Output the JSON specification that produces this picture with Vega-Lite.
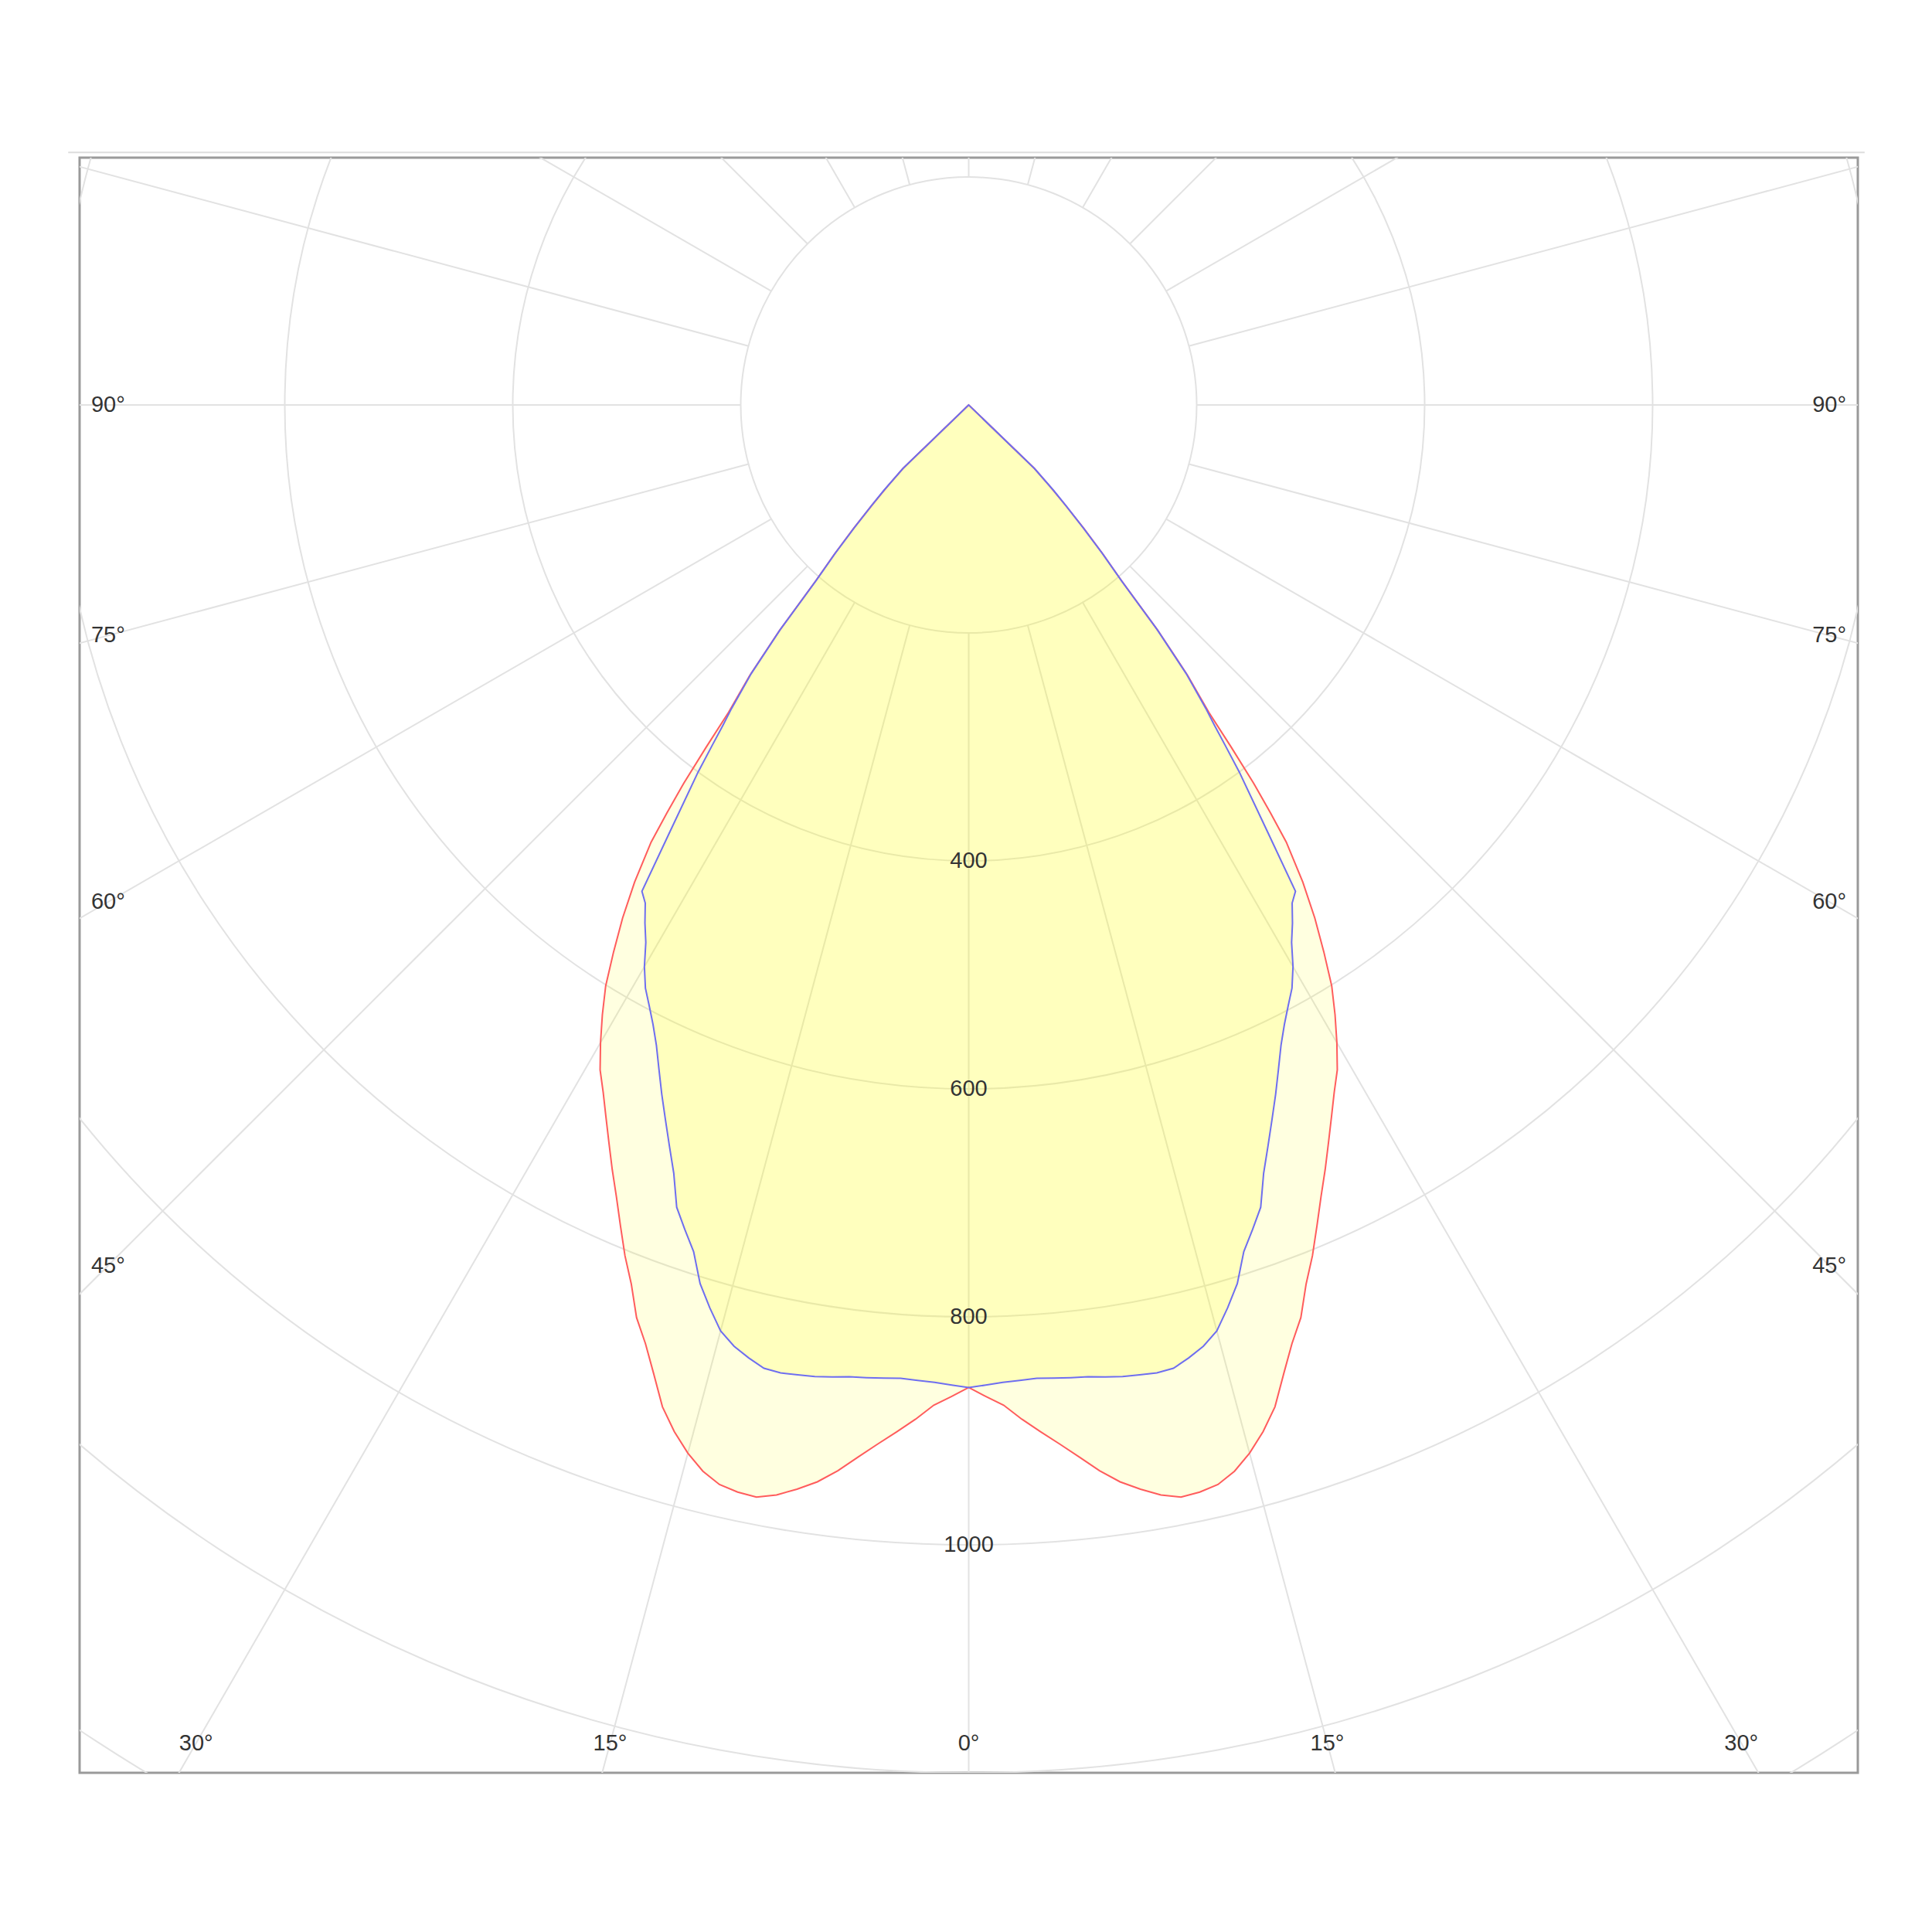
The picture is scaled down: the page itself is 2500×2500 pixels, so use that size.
{
  "$schema": "https://vega.github.io/schema/vega-lite/v6.json",
  "width": 2301,
  "height": 2090,
  "autosize": {"type": "none"},
  "padding": {"left": 103, "top": 204, "right": 96, "bottom": 206},
  "background": "white",
  "config": {"view": {"stroke": "#9a9a9a", "strokeWidth": 3}},
  "datasets": {
    "curves": [
      {"plane": "C0", "angle": -48, "cd": 0}, {"plane": "C0", "angle": -46, "cd": 80}, {"plane": "C0", "angle": -45, "cd": 100}, {"plane": "C0", "angle": -44, "cd": 122}, {"plane": "C0", "angle": -43, "cd": 148}, {"plane": "C0", "angle": -42, "cd": 176}, {"plane": "C0", "angle": -41, "cd": 205}, {"plane": "C0", "angle": -40, "cd": 258}, {"plane": "C0", "angle": -39, "cd": 305}, {"plane": "C0", "angle": -38, "cd": 342}, {"plane": "C0", "angle": -37.5, "cd": 378}, {"plane": "C0", "angle": -37, "cd": 415}, {"plane": "C0", "angle": -36.5, "cd": 445}, {"plane": "C0", "angle": -36, "cd": 474}, {"plane": "C0", "angle": -35, "cd": 511}, {"plane": "C0", "angle": -34, "cd": 543}, {"plane": "C0", "angle": -33, "cd": 572}, {"plane": "C0", "angle": -32, "cd": 601}, {"plane": "C0", "angle": -31, "cd": 624}, {"plane": "C0", "angle": -30, "cd": 646}, {"plane": "C0", "angle": -29, "cd": 667}, {"plane": "C0", "angle": -28, "cd": 683}, {"plane": "C0", "angle": -27, "cd": 701}, {"plane": "C0", "angle": -26, "cd": 720}, {"plane": "C0", "angle": -25, "cd": 740}, {"plane": "C0", "angle": -24, "cd": 760}, {"plane": "C0", "angle": -23, "cd": 782}, {"plane": "C0", "angle": -22, "cd": 805}, {"plane": "C0", "angle": -21, "cd": 826}, {"plane": "C0", "angle": -20, "cd": 852}, {"plane": "C0", "angle": -19, "cd": 871}, {"plane": "C0", "angle": -18, "cd": 894}, {"plane": "C0", "angle": -17, "cd": 919}, {"plane": "C0", "angle": -16, "cd": 937}, {"plane": "C0", "angle": -15, "cd": 952}, {"plane": "C0", "angle": -14, "cd": 964}, {"plane": "C0", "angle": -13, "cd": 972}, {"plane": "C0", "angle": -12, "cd": 975}, {"plane": "C0", "angle": -11, "cd": 976}, {"plane": "C0", "angle": -10, "cd": 971}, {"plane": "C0", "angle": -9, "cd": 963}, {"plane": "C0", "angle": -8, "cd": 954}, {"plane": "C0", "angle": -7, "cd": 942}, {"plane": "C0", "angle": -6, "cd": 928}, {"plane": "C0", "angle": -5, "cd": 915}, {"plane": "C0", "angle": -4, "cd": 903}, {"plane": "C0", "angle": -3, "cd": 891}, {"plane": "C0", "angle": -2, "cd": 878}, {"plane": "C0", "angle": -1, "cd": 870},
      {"plane": "C0", "angle": 0, "cd": 862},
      {"plane": "C0", "angle": 1, "cd": 870}, {"plane": "C0", "angle": 2, "cd": 878}, {"plane": "C0", "angle": 3, "cd": 891}, {"plane": "C0", "angle": 4, "cd": 903}, {"plane": "C0", "angle": 5, "cd": 915}, {"plane": "C0", "angle": 6, "cd": 928}, {"plane": "C0", "angle": 7, "cd": 942}, {"plane": "C0", "angle": 8, "cd": 954}, {"plane": "C0", "angle": 9, "cd": 963}, {"plane": "C0", "angle": 10, "cd": 971}, {"plane": "C0", "angle": 11, "cd": 976}, {"plane": "C0", "angle": 12, "cd": 975}, {"plane": "C0", "angle": 13, "cd": 972}, {"plane": "C0", "angle": 14, "cd": 964}, {"plane": "C0", "angle": 15, "cd": 952}, {"plane": "C0", "angle": 16, "cd": 937}, {"plane": "C0", "angle": 17, "cd": 919}, {"plane": "C0", "angle": 18, "cd": 894}, {"plane": "C0", "angle": 19, "cd": 871}, {"plane": "C0", "angle": 20, "cd": 852}, {"plane": "C0", "angle": 21, "cd": 826}, {"plane": "C0", "angle": 22, "cd": 805}, {"plane": "C0", "angle": 23, "cd": 782}, {"plane": "C0", "angle": 24, "cd": 760}, {"plane": "C0", "angle": 25, "cd": 740}, {"plane": "C0", "angle": 26, "cd": 720}, {"plane": "C0", "angle": 27, "cd": 701}, {"plane": "C0", "angle": 28, "cd": 683}, {"plane": "C0", "angle": 29, "cd": 667}, {"plane": "C0", "angle": 30, "cd": 646}, {"plane": "C0", "angle": 31, "cd": 624}, {"plane": "C0", "angle": 32, "cd": 601}, {"plane": "C0", "angle": 33, "cd": 572}, {"plane": "C0", "angle": 34, "cd": 543}, {"plane": "C0", "angle": 35, "cd": 511}, {"plane": "C0", "angle": 36, "cd": 474}, {"plane": "C0", "angle": 36.5, "cd": 445}, {"plane": "C0", "angle": 37, "cd": 415}, {"plane": "C0", "angle": 37.5, "cd": 378}, {"plane": "C0", "angle": 38, "cd": 342}, {"plane": "C0", "angle": 39, "cd": 305}, {"plane": "C0", "angle": 40, "cd": 258}, {"plane": "C0", "angle": 41, "cd": 205}, {"plane": "C0", "angle": 42, "cd": 176}, {"plane": "C0", "angle": 43, "cd": 148}, {"plane": "C0", "angle": 44, "cd": 122}, {"plane": "C0", "angle": 45, "cd": 100}, {"plane": "C0", "angle": 46, "cd": 80}, {"plane": "C0", "angle": 48, "cd": 0},

      {"plane": "C90", "angle": -48, "cd": 0}, {"plane": "C90", "angle": -46, "cd": 80}, {"plane": "C90", "angle": -44.8, "cd": 106}, {"plane": "C90", "angle": -44, "cd": 123}, {"plane": "C90", "angle": -43, "cd": 147}, {"plane": "C90", "angle": -42, "cd": 175}, {"plane": "C90", "angle": -41, "cd": 204}, {"plane": "C90", "angle": -40, "cd": 257}, {"plane": "C90", "angle": -39, "cd": 303}, {"plane": "C90", "angle": -38, "cd": 338}, {"plane": "C90", "angle": -37.5, "cd": 354}, {"plane": "C90", "angle": -37, "cd": 374}, {"plane": "C90", "angle": -36.4, "cd": 400}, {"plane": "C90", "angle": -35, "cd": 457}, {"plane": "C90", "angle": -33.9, "cd": 514}, {"plane": "C90", "angle": -33, "cd": 521}, {"plane": "C90", "angle": -32, "cd": 536}, {"plane": "C90", "angle": -31, "cd": 550}, {"plane": "C90", "angle": -30, "cd": 569}, {"plane": "C90", "angle": -29, "cd": 585}, {"plane": "C90", "angle": -28, "cd": 597}, {"plane": "C90", "angle": -27, "cd": 610}, {"plane": "C90", "angle": -26, "cd": 625}, {"plane": "C90", "angle": -25, "cd": 643}, {"plane": "C90", "angle": -24, "cd": 662}, {"plane": "C90", "angle": -23, "cd": 681}, {"plane": "C90", "angle": -22, "cd": 701}, {"plane": "C90", "angle": -21, "cd": 722}, {"plane": "C90", "angle": -20, "cd": 749}, {"plane": "C90", "angle": -19, "cd": 765}, {"plane": "C90", "angle": -18, "cd": 781}, {"plane": "C90", "angle": -17, "cd": 806}, {"plane": "C90", "angle": -16, "cd": 824}, {"plane": "C90", "angle": -15, "cd": 841}, {"plane": "C90", "angle": -14, "cd": 851}, {"plane": "C90", "angle": -13, "cd": 858}, {"plane": "C90", "angle": -12, "cd": 864}, {"plane": "C90", "angle": -11, "cd": 865}, {"plane": "C90", "angle": -10, "cd": 864}, {"plane": "C90", "angle": -9, "cd": 863}, {"plane": "C90", "angle": -8, "cd": 861}, {"plane": "C90", "angle": -7, "cd": 859}, {"plane": "C90", "angle": -6, "cd": 858}, {"plane": "C90", "angle": -5, "cd": 857}, {"plane": "C90", "angle": -4, "cd": 856}, {"plane": "C90", "angle": -3, "cd": 857}, {"plane": "C90", "angle": -2, "cd": 858}, {"plane": "C90", "angle": -1, "cd": 860},
      {"plane": "C90", "angle": 0, "cd": 862},
      {"plane": "C90", "angle": 1, "cd": 860}, {"plane": "C90", "angle": 2, "cd": 858}, {"plane": "C90", "angle": 3, "cd": 857}, {"plane": "C90", "angle": 4, "cd": 856}, {"plane": "C90", "angle": 5, "cd": 857}, {"plane": "C90", "angle": 6, "cd": 858}, {"plane": "C90", "angle": 7, "cd": 859}, {"plane": "C90", "angle": 8, "cd": 861}, {"plane": "C90", "angle": 9, "cd": 863}, {"plane": "C90", "angle": 10, "cd": 864}, {"plane": "C90", "angle": 11, "cd": 865}, {"plane": "C90", "angle": 12, "cd": 864}, {"plane": "C90", "angle": 13, "cd": 858}, {"plane": "C90", "angle": 14, "cd": 851}, {"plane": "C90", "angle": 15, "cd": 841}, {"plane": "C90", "angle": 16, "cd": 824}, {"plane": "C90", "angle": 17, "cd": 806}, {"plane": "C90", "angle": 18, "cd": 781}, {"plane": "C90", "angle": 19, "cd": 765}, {"plane": "C90", "angle": 20, "cd": 749}, {"plane": "C90", "angle": 21, "cd": 722}, {"plane": "C90", "angle": 22, "cd": 701}, {"plane": "C90", "angle": 23, "cd": 681}, {"plane": "C90", "angle": 24, "cd": 662}, {"plane": "C90", "angle": 25, "cd": 643}, {"plane": "C90", "angle": 26, "cd": 625}, {"plane": "C90", "angle": 27, "cd": 610}, {"plane": "C90", "angle": 28, "cd": 597}, {"plane": "C90", "angle": 29, "cd": 585}, {"plane": "C90", "angle": 30, "cd": 569}, {"plane": "C90", "angle": 31, "cd": 550}, {"plane": "C90", "angle": 32, "cd": 536}, {"plane": "C90", "angle": 33, "cd": 521}, {"plane": "C90", "angle": 33.9, "cd": 514}, {"plane": "C90", "angle": 35, "cd": 457}, {"plane": "C90", "angle": 36.4, "cd": 400}, {"plane": "C90", "angle": 37, "cd": 374}, {"plane": "C90", "angle": 37.5, "cd": 354}, {"plane": "C90", "angle": 38, "cd": 338}, {"plane": "C90", "angle": 39, "cd": 303}, {"plane": "C90", "angle": 40, "cd": 257}, {"plane": "C90", "angle": 41, "cd": 204}, {"plane": "C90", "angle": 42, "cd": 175}, {"plane": "C90", "angle": 43, "cd": 147}, {"plane": "C90", "angle": 44, "cd": 123}, {"plane": "C90", "angle": 44.8, "cd": 106}, {"plane": "C90", "angle": 46, "cd": 80}, {"plane": "C90", "angle": 48, "cd": 0}
    ]
  },
  "layer": [
    {
      "data": {"values": [{"r": 200}, {"r": 400}, {"r": 600}, {"r": 800}, {"r": 1000}, {"r": 1200}, {"r": 1400}]},
      "mark": {"type": "arc", "theta": 0, "theta2": 6.2832, "filled": false, "stroke": "#e2e2e2", "strokeWidth": 2, "clip": true},
      "encoding": {
        "x": {"datum": 0, "type": "quantitative", "scale": {"domain": [-780, 780], "nice": false, "zero": false}, "axis": null},
        "y": {"datum": 0, "type": "quantitative", "scale": {"domain": [-1200, 217], "nice": false, "zero": false}, "axis": null},
        "radius": {"field": "r", "type": "quantitative", "stack": null, "scale": {"type": "linear", "domain": [0, 1000], "range": [0, 1475], "zero": true}, "legend": null}
      }
    },
    {
      "data": {"values": [{"a": -165}, {"a": -150}, {"a": -135}, {"a": -120}, {"a": -105}, {"a": -90}, {"a": -75}, {"a": -60}, {"a": -45}, {"a": -30}, {"a": -15}, {"a": 0}, {"a": 15}, {"a": 30}, {"a": 45}, {"a": 60}, {"a": 75}, {"a": 90}, {"a": 105}, {"a": 120}, {"a": 135}, {"a": 150}, {"a": 165}, {"a": 180}]},
      "transform": [
        {"calculate": "200*sin(datum.a*PI/180)", "as": "x1"},
        {"calculate": "-200*cos(datum.a*PI/180)", "as": "y1"},
        {"calculate": "3000*sin(datum.a*PI/180)", "as": "x2"},
        {"calculate": "-3000*cos(datum.a*PI/180)", "as": "y2"}
      ],
      "mark": {"type": "rule", "stroke": "#e2e2e2", "strokeWidth": 2, "clip": true},
      "encoding": {
        "x": {"field": "x1", "type": "quantitative", "scale": {"domain": [-780, 780], "nice": false, "zero": false}, "axis": null},
        "y": {"field": "y1", "type": "quantitative", "scale": {"domain": [-1200, 217], "nice": false, "zero": false}, "axis": null},
        "x2": {"field": "x2"},
        "y2": {"field": "y2"}
      }
    },
    {
      "data": {"name": "curves"},
      "transform": [
        {"filter": "datum.plane == 'C0'"},
        {"calculate": "datum.cd*sin(datum.angle*PI/180)", "as": "px"},
        {"calculate": "-datum.cd*cos(datum.angle*PI/180)", "as": "py"}
      ],
      "mark": {"type": "line", "interpolate": "linear-closed", "stroke": "#ff5c5c", "strokeWidth": 2, "fill": "#ffff00", "fillOpacity": 0.12, "clip": true},
      "encoding": {
        "x": {"field": "px", "type": "quantitative", "scale": {"domain": [-780, 780], "nice": false, "zero": false}, "axis": null},
        "y": {"field": "py", "type": "quantitative", "scale": {"domain": [-1200, 217], "nice": false, "zero": false}, "axis": null},
        "order": {"field": "angle", "type": "quantitative"}
      }
    },
    {
      "data": {"name": "curves"},
      "transform": [
        {"filter": "datum.plane == 'C90'"},
        {"calculate": "datum.cd*sin(datum.angle*PI/180)", "as": "px"},
        {"calculate": "-datum.cd*cos(datum.angle*PI/180)", "as": "py"}
      ],
      "mark": {"type": "line", "interpolate": "linear-closed", "stroke": "#6e6ef0", "strokeWidth": 2, "fill": "#ffff00", "fillOpacity": 0.15, "clip": true},
      "encoding": {
        "x": {"field": "px", "type": "quantitative", "scale": {"domain": [-780, 780], "nice": false, "zero": false}, "axis": null},
        "y": {"field": "py", "type": "quantitative", "scale": {"domain": [-1200, 217], "nice": false, "zero": false}, "axis": null},
        "order": {"field": "angle", "type": "quantitative"}
      }
    },
    {
      "data": {"values": [{"v": 400, "label": "400"}, {"v": 600, "label": "600"}, {"v": 800, "label": "800"}, {"v": 1000, "label": "1000"}]},
      "transform": [{"calculate": "-datum.v", "as": "ty"}],
      "mark": {"type": "text", "font": "Liberation Sans", "fontSize": 29, "fill": "#333333", "align": "center", "baseline": "middle"},
      "encoding": {
        "x": {"datum": 0, "type": "quantitative", "scale": {"domain": [-780, 780], "nice": false, "zero": false}, "axis": null},
        "y": {"field": "ty", "type": "quantitative", "scale": {"domain": [-1200, 217], "nice": false, "zero": false}, "axis": null},
        "text": {"field": "label", "type": "nominal"}
      }
    },
    {
      "data": {"values": [
        {"deg": -90, "edge": "side", "label": "90°"}, {"deg": -75, "edge": "side", "label": "75°"}, {"deg": -60, "edge": "side", "label": "60°"}, {"deg": -45, "edge": "side", "label": "45°"},
        {"deg": 45, "edge": "side", "label": "45°"}, {"deg": 60, "edge": "side", "label": "60°"}, {"deg": 75, "edge": "side", "label": "75°"}, {"deg": 90, "edge": "side", "label": "90°"},
        {"deg": -30, "edge": "bottom", "label": "30°"}, {"deg": -15, "edge": "bottom", "label": "15°"}, {"deg": 0, "edge": "bottom", "label": "0°"}, {"deg": 15, "edge": "bottom", "label": "15°"}, {"deg": 30, "edge": "bottom", "label": "30°"}
      ]},
      "transform": [
        {"calculate": "datum.edge == 'side' ? (datum.deg < 0 ? -755 : 755) : 1174*tan(datum.deg*PI/180)", "as": "lx"},
        {"calculate": "datum.edge == 'side' ? -755/tan(abs(datum.deg)*PI/180) : -1174", "as": "ly"}
      ],
      "mark": {"type": "text", "font": "Liberation Sans", "fontSize": 29, "fill": "#333333", "align": "center", "baseline": "middle"},
      "encoding": {
        "x": {"field": "lx", "type": "quantitative", "scale": {"domain": [-780, 780], "nice": false, "zero": false}, "axis": null},
        "y": {"field": "ly", "type": "quantitative", "scale": {"domain": [-1200, 217], "nice": false, "zero": false}, "axis": null},
        "text": {"field": "label", "type": "nominal"}
      }
    },
    {
      "data": {"values": [{}]},
      "mark": {"type": "rule", "stroke": "#dddddd", "strokeWidth": 2, "clip": false},
      "encoding": {
        "x": {"datum": -790, "type": "quantitative", "scale": {"domain": [-780, 780], "nice": false, "zero": false}, "axis": null},
        "x2": {"datum": 786},
        "y": {"datum": 221.5, "type": "quantitative", "scale": {"domain": [-1200, 217], "nice": false, "zero": false}, "axis": null}
      }
    }
  ]
}
